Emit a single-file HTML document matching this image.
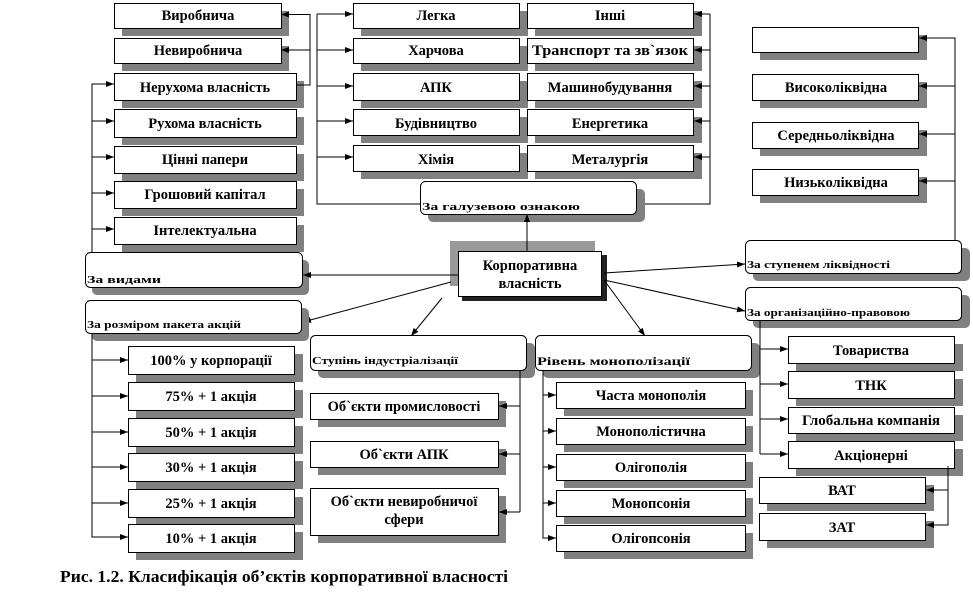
<!DOCTYPE html>
<html><head><meta charset="utf-8"><style>
body{margin:0;background:#fff}
svg{display:block}
text{font-family:"Liberation Serif",serif;font-weight:bold;fill:#000}
.t{font-size:14.5px;text-anchor:middle}
.c{font-size:11px}
.sh{fill:#808080}
.b{fill:#fff;stroke:#000;stroke-width:1}
.l{stroke:#000;stroke-width:1;fill:none}
</style></head><body>
<svg width="973" height="593" viewBox="0 0 973 593">
<defs><marker id="a" markerWidth="8" markerHeight="6" refX="8" refY="3" orient="auto" markerUnits="userSpaceOnUse"><path d="M0,0L8,3L0,6z" fill="#000"/></marker></defs>

<!-- left column -->
<rect class="sh" x="122" y="11" width="167" height="25"/><rect class="b" x="114.5" y="3.5" width="167" height="25"/><text class="t" x="198" y="20">Виробнича</text>
<rect class="sh" x="122" y="46" width="167" height="25"/><rect class="b" x="114.5" y="38.5" width="167" height="25"/><text class="t" x="198" y="55">Невиробнича</text>
<rect class="sh" x="122" y="81" width="182" height="27"/><rect class="b" x="114.5" y="73.5" width="182" height="27"/><text class="t" x="205" y="92">Нерухома власність</text>
<rect class="sh" x="122" y="117" width="182" height="28"/><rect class="b" x="114.5" y="109.5" width="182" height="28"/><text class="t" x="205" y="128">Рухома власність</text>
<rect class="sh" x="122" y="154" width="182" height="27"/><rect class="b" x="114.5" y="146.5" width="182" height="27"/><text class="t" x="205" y="164">Цінні папери</text>
<rect class="sh" x="122" y="189" width="182" height="27"/><rect class="b" x="114.5" y="181.5" width="182" height="27"/><text class="t" x="205" y="199">Грошовий капітал</text>
<rect class="sh" x="122" y="225" width="182" height="27"/><rect class="b" x="114.5" y="217.5" width="182" height="27"/><text class="t" x="205" y="235">Інтелектуальна</text>
<path class="l" d="M296,85H310V14.5H281" marker-end="url(#a)"/><path class="l" d="M310,50H281" marker-end="url(#a)"/>
<path class="l" d="M92,252V84H114"/>
<path class="l" d="M92,84H114" marker-end="url(#a)"/><path class="l" d="M92,121H114" marker-end="url(#a)"/><path class="l" d="M92,157H114" marker-end="url(#a)"/><path class="l" d="M92,193H114" marker-end="url(#a)"/><path class="l" d="M92,229H114" marker-end="url(#a)"/>
<rect class="sh" x="92" y="260" width="217" height="35" rx="5"/><rect class="b" x="85.5" y="252.5" width="217" height="35" rx="5"/><text class="c" x="87" y="283" textLength="74" lengthAdjust="spacingAndGlyphs">За видами</text>

<!-- industry -->
<g>
<rect class="sh" x="361" y="11" width="167" height="25"/><rect class="b" x="353.5" y="3.5" width="166" height="25"/><text class="t" x="436" y="20">Легка</text>
<rect class="sh" x="361" y="46" width="167" height="25"/><rect class="b" x="353.5" y="38.5" width="166" height="25"/><text class="t" x="436" y="55">Харчова</text>
<rect class="sh" x="361" y="81" width="167" height="27"/><rect class="b" x="353.5" y="73.5" width="166" height="27"/><text class="t" x="436" y="92">АПК</text>
<rect class="sh" x="361" y="117" width="167" height="26"/><rect class="b" x="353.5" y="109.5" width="166" height="26"/><text class="t" x="436" y="128">Будівництво</text>
<rect class="sh" x="361" y="153" width="167" height="26"/><rect class="b" x="353.5" y="145.5" width="166" height="26"/><text class="t" x="436" y="164">Хімія</text>
<rect class="sh" x="535" y="11" width="167" height="25"/><rect class="b" x="527.5" y="3.5" width="166" height="25"/><text class="t" x="610" y="20">Інші</text>
<rect class="sh" x="535" y="46" width="167" height="25"/><rect class="b" x="527.5" y="38.5" width="166" height="25"/><text class="t" x="610" y="55" textLength="156" lengthAdjust="spacingAndGlyphs">Транспорт та зв`язок</text>
<rect class="sh" x="535" y="81" width="167" height="27"/><rect class="b" x="527.5" y="73.5" width="166" height="27"/><text class="t" x="610" y="92">Машинобудування</text>
<rect class="sh" x="535" y="117" width="167" height="26"/><rect class="b" x="527.5" y="109.5" width="166" height="26"/><text class="t" x="610" y="128">Енергетика</text>
<rect class="sh" x="535" y="153" width="167" height="26"/><rect class="b" x="527.5" y="145.5" width="166" height="26"/><text class="t" x="610" y="164">Металургія</text>
</g>
<path class="l" d="M420,204H317V14"/>
<path class="l" d="M317,14H353" marker-end="url(#a)"/><path class="l" d="M317,50H353" marker-end="url(#a)"/><path class="l" d="M317,86H353" marker-end="url(#a)"/><path class="l" d="M317,121H353" marker-end="url(#a)"/><path class="l" d="M317,157H353" marker-end="url(#a)"/>
<path class="l" d="M636,204H710V14"/>
<path class="l" d="M710,14H694" marker-end="url(#a)"/><path class="l" d="M710,50H694" marker-end="url(#a)"/><path class="l" d="M710,86H694" marker-end="url(#a)"/><path class="l" d="M710,121H694" marker-end="url(#a)"/><path class="l" d="M710,157H694" marker-end="url(#a)"/>
<rect class="sh" x="428" y="189" width="217" height="33" rx="5"/><rect class="b" x="420.5" y="181.5" width="216" height="33" rx="5"/><text class="c" x="422" y="210" textLength="158" lengthAdjust="spacingAndGlyphs">За галузевою ознакою</text>

<!-- center -->
<rect x="450" y="241" width="145" height="10" fill="#999"/><rect x="450" y="241" width="10" height="45" fill="#999"/>
<rect x="462" y="255" width="145" height="46" fill="#222"/>
<rect class="b" x="458.5" y="251.5" width="143" height="45"/>
<text class="t" x="530" y="270">Корпоративна</text><text class="t" x="530" y="288">власність</text>
<path class="l" d="M527,251V214" marker-end="url(#a)"/>
<path class="l" d="M458,275H303" marker-end="url(#a)"/>
<path class="l" d="M451,282L303,322" marker-end="url(#a)"/>
<path class="l" d="M442,298L411,336" marker-end="url(#a)"/>
<path class="l" d="M604,280L645,336" marker-end="url(#a)"/>
<path class="l" d="M604,273L745,264" marker-end="url(#a)"/>
<path class="l" d="M604,280L745,311" marker-end="url(#a)"/>

<!-- liquidity -->
<rect class="sh" x="760" y="35" width="167" height="25"/><rect class="b" x="752.5" y="27.5" width="166" height="25"/>
<rect class="sh" x="760" y="82" width="167" height="26"/><rect class="b" x="752.5" y="74.5" width="166" height="26"/><text class="t" x="836" y="92">Високоліквідна</text>
<rect class="sh" x="760" y="130" width="167" height="26"/><rect class="b" x="752.5" y="122.5" width="166" height="26"/><text class="t" x="836" y="140">Середньоліквідна</text>
<rect class="sh" x="760" y="177" width="167" height="26"/><rect class="b" x="752.5" y="169.5" width="166" height="26"/><text class="t" x="836" y="187">Низьколіквідна</text>
<path class="l" d="M955,240V38H919" marker-end="url(#a)"/><path class="l" d="M955,86H919" marker-end="url(#a)"/><path class="l" d="M955,134H919" marker-end="url(#a)"/><path class="l" d="M955,181H919" marker-end="url(#a)"/>
<rect class="sh" x="753" y="248" width="217" height="33" rx="5"/><rect class="b" x="745.5" y="240.5" width="216" height="33" rx="5"/><text class="c" x="747" y="268" textLength="143" lengthAdjust="spacingAndGlyphs">За ступенем ліквідності</text>
<rect class="sh" x="753" y="295" width="217" height="33" rx="5"/><rect class="b" x="745.5" y="287.5" width="216" height="33" rx="5"/><text class="c" x="747" y="316" textLength="163" lengthAdjust="spacingAndGlyphs">За організаційно-правовою</text>

<!-- share size -->
<rect class="sh" x="92" y="308" width="217" height="33" rx="5"/><rect class="b" x="85.5" y="300.5" width="216" height="33" rx="5"/><text class="c" x="87" y="328" textLength="154" lengthAdjust="spacingAndGlyphs">За розміром пакета акцій</text>
<rect class="sh" x="136" y="354" width="167" height="28"/><rect class="b" x="128.5" y="346.5" width="166" height="28"/><text class="t" x="211" y="365">100% у корпорації</text>
<rect class="sh" x="136" y="390" width="167" height="28"/><rect class="b" x="128.5" y="382.5" width="166" height="28"/><text class="t" x="211" y="401">75% + 1 акція</text>
<rect class="sh" x="136" y="426" width="167" height="28"/><rect class="b" x="128.5" y="418.5" width="166" height="28"/><text class="t" x="211" y="437">50% + 1 акція</text>
<rect class="sh" x="136" y="461" width="167" height="28"/><rect class="b" x="128.5" y="453.5" width="166" height="28"/><text class="t" x="211" y="472">30% + 1 акція</text>
<rect class="sh" x="136" y="497" width="167" height="28"/><rect class="b" x="128.5" y="489.5" width="166" height="28"/><text class="t" x="211" y="508">25% + 1 акція</text>
<rect class="sh" x="136" y="532" width="167" height="28"/><rect class="b" x="128.5" y="524.5" width="166" height="28"/><text class="t" x="211" y="543">10% + 1 акція</text>
<path class="l" d="M92,334V537H128"/>
<path class="l" d="M92,360H128" marker-end="url(#a)"/><path class="l" d="M92,396H128" marker-end="url(#a)"/><path class="l" d="M92,432H128" marker-end="url(#a)"/><path class="l" d="M92,467H128" marker-end="url(#a)"/><path class="l" d="M92,503H128" marker-end="url(#a)"/><path class="l" d="M92,537H128" marker-end="url(#a)"/>

<!-- industrialization -->
<rect class="sh" x="318" y="343" width="217" height="35" rx="5"/><rect class="b" x="310.5" y="335.5" width="216" height="35" rx="5"/><text class="c" x="312" y="364" textLength="146" lengthAdjust="spacingAndGlyphs">Ступінь індустріалізації</text>
<rect class="sh" x="318" y="401" width="188" height="26"/><rect class="b" x="310.5" y="393.5" width="188" height="26"/><text class="t" x="404" y="411">Об`єкти промисловості</text>
<rect class="sh" x="318" y="449" width="188" height="26"/><rect class="b" x="310.5" y="441.5" width="188" height="26"/><text class="t" x="404" y="459">Об`єкти АПК</text>
<rect class="sh" x="318" y="496" width="188" height="47"/><rect class="b" x="310.5" y="488.5" width="188" height="47"/><text class="t" x="404" y="506">Об`єкти невиробничої</text><text class="t" x="404" y="524">сфери</text>
<path class="l" d="M520,371V512"/>
<path class="l" d="M520,406H499" marker-end="url(#a)"/><path class="l" d="M520,454H499" marker-end="url(#a)"/><path class="l" d="M520,512H499" marker-end="url(#a)"/>

<!-- monopolization -->
<rect class="sh" x="543" y="343" width="217" height="35" rx="5"/><rect class="b" x="535.5" y="335.5" width="216" height="35" rx="5"/><text class="c" x="537" y="365" style="font-size:12px" textLength="153" lengthAdjust="spacingAndGlyphs">Рівень монополізації</text>
<rect class="sh" x="564" y="390" width="189" height="26"/><rect class="b" x="556.5" y="382.5" width="189" height="26"/><text class="t" x="651" y="400">Часта монополія</text>
<rect class="sh" x="564" y="426" width="189" height="26"/><rect class="b" x="556.5" y="418.5" width="189" height="26"/><text class="t" x="651" y="436">Монополістична</text>
<rect class="sh" x="564" y="462" width="189" height="26"/><rect class="b" x="556.5" y="454.5" width="189" height="26"/><text class="t" x="651" y="472">Олігополія</text>
<rect class="sh" x="564" y="498" width="189" height="26"/><rect class="b" x="556.5" y="490.5" width="189" height="26"/><text class="t" x="651" y="508">Монопсонія</text>
<rect class="sh" x="564" y="533" width="189" height="26"/><rect class="b" x="556.5" y="525.5" width="189" height="26"/><text class="t" x="651" y="543">Олігопсонія</text>
<path class="l" d="M543,371V538H556"/>
<path class="l" d="M543,395H556" marker-end="url(#a)"/><path class="l" d="M543,431H556" marker-end="url(#a)"/><path class="l" d="M543,467H556" marker-end="url(#a)"/><path class="l" d="M543,503H556" marker-end="url(#a)"/><path class="l" d="M543,538H556" marker-end="url(#a)"/>

<!-- org-legal -->
<path class="l" d="M760,321V454"/>
<path class="l" d="M760,349H788" marker-end="url(#a)"/><path class="l" d="M760,384H788" marker-end="url(#a)"/><path class="l" d="M760,419H788" marker-end="url(#a)"/><path class="l" d="M760,454H788" marker-end="url(#a)"/>
<rect class="sh" x="796" y="344" width="167" height="27"/><rect class="b" x="788.5" y="336.5" width="166" height="27"/><text class="t" x="871" y="355">Товариства</text>
<rect class="sh" x="796" y="379" width="167" height="27"/><rect class="b" x="788.5" y="371.5" width="166" height="27"/><text class="t" x="871" y="390">ТНК</text>
<rect class="sh" x="796" y="415" width="167" height="26"/><rect class="b" x="788.5" y="407.5" width="166" height="26"/><text class="t" x="871" y="425" textLength="138" lengthAdjust="spacingAndGlyphs">Глобальна компанія</text>
<rect class="sh" x="796" y="449" width="167" height="27"/><rect class="b" x="788.5" y="441.5" width="166" height="27"/><text class="t" x="871" y="460">Акціонерні</text>
<rect class="sh" x="767" y="485" width="167" height="26"/><rect class="b" x="759.5" y="477.5" width="166" height="26"/><text class="t" x="842" y="495">ВАТ</text>
<rect class="sh" x="767" y="521" width="167" height="27"/><rect class="b" x="759.5" y="513.5" width="166" height="27"/><text class="t" x="842" y="532">ЗАТ</text>
<path class="l" d="M948,466V525H926" marker-end="url(#a)"/><path class="l" d="M948,490H926" marker-end="url(#a)"/>

<text x="60" y="582" style="font-size:17px" textLength="448" lengthAdjust="spacingAndGlyphs">Рис. 1.2. Класифікація об’єктів корпоративної власності</text>
</svg>
</body></html>
